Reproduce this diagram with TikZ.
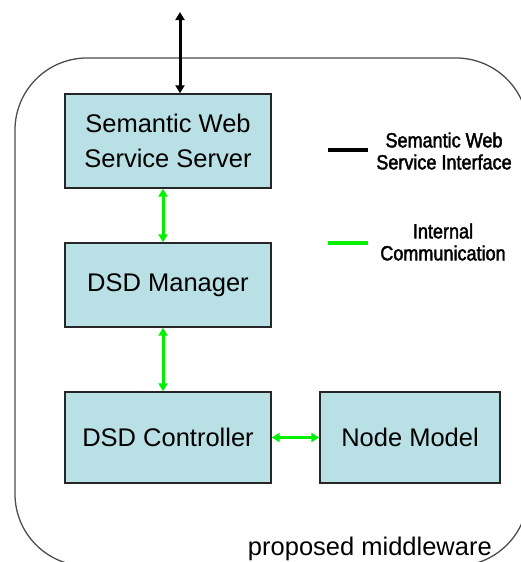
\documentclass[tikz,border=0pt]{standalone}
\usepackage{fontspec}
\setmainfont{Liberation Sans}
\newfontfamily\legendfont[FakeStretch=0.88,FakeBold=2]{Liberation Sans}
\usepackage{tikz}
\usetikzlibrary{arrows.meta}

\definecolor{boxblue}{RGB}{185,224,228}
\definecolor{linkgreen}{RGB}{0,240,0}

\begin{document}
\begin{tikzpicture}[x=1pt, y=-1pt,
	every node/.style={font=\fontsize{25.5}{35}\selectfont},
	>={Triangle[length=8pt,width=9pt]},
	block/.style={draw=black!85, line width=1.4pt, fill=boxblue, align=center, inner sep=0pt},
	internal/.style={<->, linkgreen, line width=3pt},
	legtext/.style={font=\legendfont\fontsize{20.5}{22}\selectfont, align=center, inner sep=0pt}]
	\useasboundingbox (0,0) rectangle (520,562);
	% middleware frame
	\draw[black!70, line width=1.3pt, rounded corners=72pt] (15,58) rectangle (528,566);
	\node[anchor=base east, inner sep=0pt] (mw) at (492,555) {proposed middleware};
	% components
	\node[block, minimum width=206pt, minimum height=94pt] (swss) at (168,141) {Semantic Web\\Service Server};
	\node[block, minimum width=206pt, minimum height=84pt] (mgr) at (168,285) {DSD Manager};
	\node[block, minimum width=206pt, minimum height=91pt] (ctrl) at (168,437.5) {DSD Controller};
	\node[block, minimum width=180pt, minimum height=91pt] (model) at (410,437.5) {Node Model};
	% links
	\coordinate (ext) at (180,12);
	\draw[<->, black, line width=3pt] (ext) -- ([xshift=12pt]swss.north);
	\draw[internal] ([xshift=-5pt]swss.south) -- ([xshift=-5pt]mgr.north);
	\draw[internal] ([xshift=-5pt]mgr.south) -- ([xshift=-5pt]ctrl.north);
	\draw[internal] (ctrl.east) -- (model.west);
	% legend
	\node[legtext] (legsw) at (444,151) {Semantic Web\\Service Interface};
	\node[legtext] (legint) at (443,242) {Internal\\Communication};
	\coordinate (swline) at (368,150);
	\coordinate (intline) at (368,243);
	\draw[black, line width=4.5pt] (swline) -- ++(-40,0);
	\draw[linkgreen, line width=4.5pt] (intline) -- ++(-40,0);
\end{tikzpicture}
\end{document}
